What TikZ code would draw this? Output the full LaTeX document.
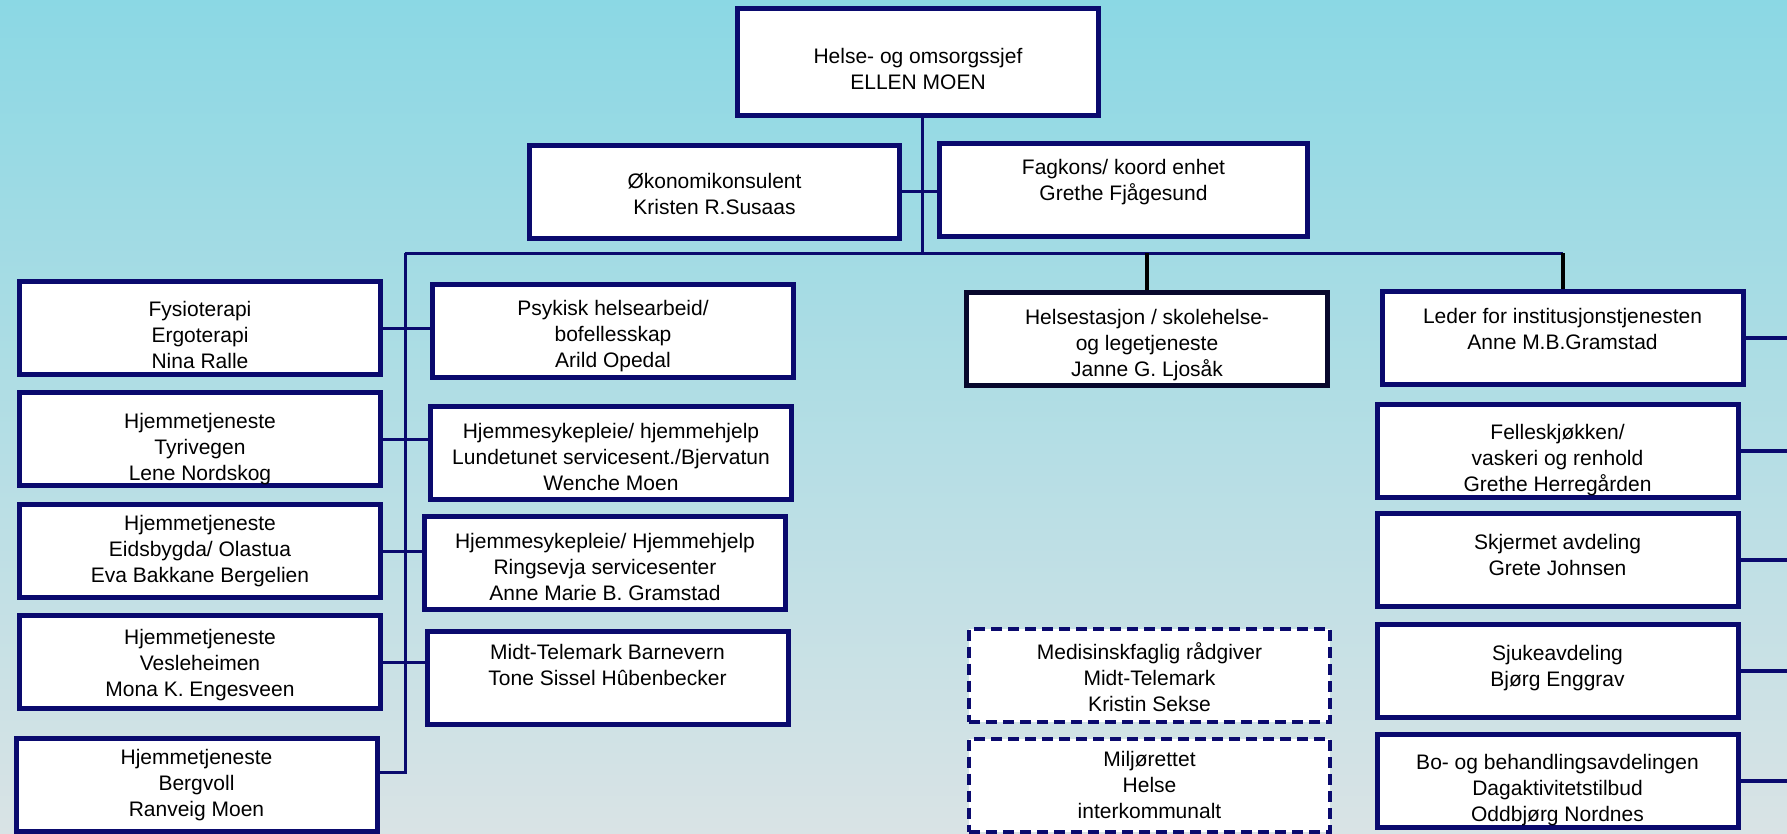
\documentclass[tikz,border=0pt]{standalone}
\usepackage{fontspec}
\setmainfont{Liberation Sans}
\usepackage{xcolor}
\usepackage{tikz}
\usetikzlibrary{positioning}

\definecolor{linenavy}{RGB}{10,10,110}
\definecolor{darknavy}{RGB}{8,8,45}
\definecolor{skytop}{RGB}{139,216,228}
\definecolor{skybottom}{RGB}{217,227,229}
\newcommand\boxfont{\fontsize{21}{26}\selectfont}

\begin{document}
\begin{tikzpicture}[
    x=1pt, y=1pt,
    unit/.style = {rectangle, draw=linenavy, line width=5pt, fill=white,
                   minimum width=361pt, minimum height=93pt, inner sep=0pt,
                   align=center, font=\boxfont},
    extunit/.style = {unit, line width=4pt, dash pattern=on 11pt off 6pt},
    link/.style = {linenavy, line width=3pt},
    drop/.style = {black, line width=4pt}
  ]
    \useasboundingbox (0,0) rectangle (1787,-833);
    \shade[top color=skytop, bottom color=skybottom] (0,0) rectangle (1787,-833);

    \node[unit, minimum height=107pt, text height=55pt] (chief) at (918,-62) {Helse- og omsorgssjef\\ELLEN MOEN};
    \node[unit, minimum width=370pt, text height=47pt] (oek) at (714.5,-191.5) {Økonomikonsulent\\Kristen R.Susaas};
    \node[unit, minimum width=368pt, text height=73pt] (fag) at (1123.5,-189.5) {Fagkons/ koord enhet\\Grethe Fjågesund\\~};

    \node[unit, text height=81pt] (fys) at (200,-328) {Fysioterapi\\Ergoterapi\\Nina Ralle};
    \node[unit, text height=87pt, below=13pt of fys] (tyr) {Hjemmetjeneste\\Tyrivegen\\Lene Nordskog};
    \node[unit, below=14pt of tyr] (eid) {Hjemmetjeneste\\Eidsbygda/ Olastua\\Eva Bakkane Bergelien};
    \node[unit, text height=73pt, below=13pt of eid] (ves) {Hjemmetjeneste\\Vesleheimen\\Mona K. Engesveen};
    \node[unit, below=25pt of ves, xshift=-3.5pt] (berg) {Hjemmetjeneste\\Bergvoll\\Ranveig Moen};

    \node[unit, text height=77pt] (psyk) at (613,-331) {Psykisk helsearbeid/\\bofellesskap\\Arild Opedal};
    \node[unit, text height=76pt, below=24pt of psyk, xshift=-2pt] (lund) {Hjemmesykepleie/ hjemmehjelp\\Lundetunet servicesent./Bjervatun\\Wenche Moen};
    \node[unit, text height=75pt, below=12pt of lund, xshift=-6pt] (ring) {Hjemmesykepleie/ Hjemmehjelp\\Ringsevja servicesenter\\Anne Marie B. Gramstad};
    \node[unit, text height=66pt, below=17pt of ring, xshift=2.5pt] (barn) {Midt-Telemark Barnevern\\Tone Sissel Hûbenbecker\\~};

    \node[unit, draw=darknavy, text height=80pt] (hst) at (1147,-338.5) {Helsestasjon / skolehelse-\\og legetjeneste\\Janne G. Ljosåk};
    \node[extunit, text height=73pt] (med) at (1149.5,-675) {Medisinskfaglig rådgiver\\Midt-Telemark\\Kristin Sekse};
    \node[extunit, below=13pt of med] (milj) {Miljørettet\\Helse\\interkommunalt};

    \node[unit, text height=75pt] (inst) at (1562.5,-338) {Leder for institusjonstjenesten\\Anne M.B.Gramstad\\~};
    \node[unit, text height=85pt, below=15pt of inst, xshift=-5pt] (kjok) {Felleskjøkken/\\vaskeri og renhold\\Grethe Herregården};
    \node[unit, text height=82pt, below=11pt of kjok] (skj) {Skjermet avdeling\\Grete Johnsen\\~};
    \node[unit, text height=83pt, below=13pt of skj] (sjuke) {Sjukeavdeling\\Bjørg Enggrav\\~};
    \node[unit, text height=86pt, below=12pt of sjuke] (bo) {Bo- og behandlingsavdelingen\\Dagaktivitetstilbud\\Oddbjørg Nordnes};

    \coordinate (busl) at (405,-253);
    \coordinate (busr) at (1562.5,-253);
    \coordinate (edge) at (1787,0);

    \draw[link] ([xshift=4pt]chief.south) -- ([xshift=4pt]chief.south |- busl);
    \draw[link] (oek.east) -- (oek.east -| fag.west);
    \draw[link] (busl) -- (busr);
    \draw[drop] (hst.north |- busl) -- (hst.north);
    \draw[drop] (busr) -- (inst.north);
    \draw[link] (busl) |- ([yshift=13pt]berg.east);
    \foreach \a/\b in {fys/psyk, tyr/lund, eid/ring, ves/barn}
      \draw[link] (\a.east) -- (\a.east -| \b.west);
    \foreach \n in {inst, kjok, skj, sjuke, bo}
      \draw[link, line width=4pt] (\n.east) -- (\n.east -| edge);
  \end{tikzpicture}
\end{document}
